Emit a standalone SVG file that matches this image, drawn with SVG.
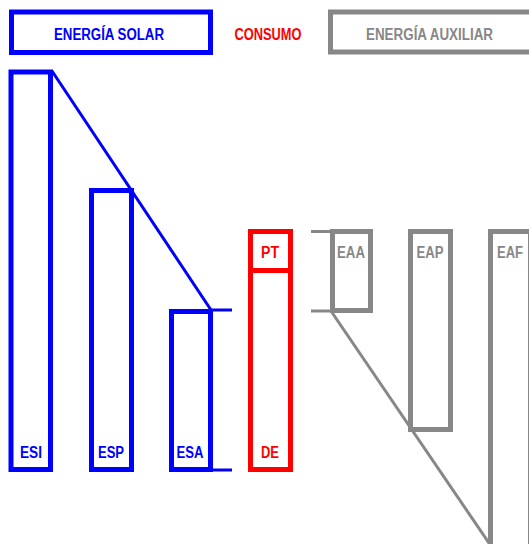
<svg xmlns="http://www.w3.org/2000/svg" width="529" height="544" viewBox="0 0 529 544">
<style>
.b{fill:none;stroke:#0000ff;stroke-width:5}
.r{fill:none;stroke:#ff0000;stroke-width:5}
.g{fill:none;stroke:#878787;stroke-width:5}
.bl{stroke:#0000ff;stroke-width:3;fill:none}
.gl{stroke:#878787;stroke-width:3;fill:none}
text{font-family:"Liberation Sans Narrow","Liberation Sans",Arial,sans-serif;font-weight:bold;font-size:16px;text-anchor:middle}
.tb{fill:#0000ff}.tr{fill:#ff0000}.tg{fill:#878787}
</style>
<g id="legend-solar"><rect class="b" x="11.5" y="12" width="199" height="40.5"/><text class="tb" x="109" y="40" textLength="110" lengthAdjust="spacingAndGlyphs">ENERGÍA SOLAR</text></g>
<g id="legend-consumo"><text class="tr" x="268" y="40" textLength="67" lengthAdjust="spacingAndGlyphs">CONSUMO</text></g>
<g id="legend-aux"><rect class="g" x="330.5" y="12" width="210" height="40"/><text class="tg" x="429.5" y="40" textLength="127" lengthAdjust="spacingAndGlyphs">ENERGÍA AUXILIAR</text></g>
<g id="connectors">
<line class="bl" x1="52" y1="71" x2="211" y2="310"/>
<line class="bl" x1="211" y1="310" x2="232" y2="310"/>
<line class="bl" x1="211" y1="470" x2="232" y2="470"/>
<line class="gl" x1="311" y1="231.5" x2="330" y2="231.5"/>
<line class="gl" x1="311" y1="311" x2="330" y2="311"/>
<line class="gl" x1="331" y1="311" x2="491" y2="546"/>
</g>
<g id="ESI"><rect class="b" x="11" y="72" width="39.5" height="397.5"/><text class="tb" x="31" y="458" textLength="22" lengthAdjust="spacingAndGlyphs">ESI</text></g>
<g id="ESP"><rect class="b" x="91.5" y="190.5" width="40" height="279"/><text class="tb" x="111" y="458" textLength="26" lengthAdjust="spacingAndGlyphs">ESP</text></g>
<g id="ESA"><rect class="b" x="171.5" y="311.5" width="39" height="158"/><text class="tb" x="190" y="458" textLength="27" lengthAdjust="spacingAndGlyphs">ESA</text></g>
<g id="PT"><rect class="r" x="250.5" y="231.5" width="40" height="39"/><text class="tr" x="270" y="258" textLength="18" lengthAdjust="spacingAndGlyphs">PT</text></g>
<g id="DE"><rect class="r" x="250.5" y="270.5" width="40" height="199"/><text class="tr" x="270" y="458" textLength="18" lengthAdjust="spacingAndGlyphs">DE</text></g>
<g id="EAA"><rect class="g" x="332.5" y="231.5" width="38" height="79"/><text class="tg" x="351" y="258" textLength="28" lengthAdjust="spacingAndGlyphs">EAA</text></g>
<g id="EAP"><rect class="g" x="410.5" y="231.5" width="40" height="198"/><text class="tg" x="430" y="258" textLength="27" lengthAdjust="spacingAndGlyphs">EAP</text></g>
<g id="EAF"><rect class="g" x="490.5" y="231.5" width="40" height="330"/><text class="tg" x="510" y="258" textLength="26" lengthAdjust="spacingAndGlyphs">EAF</text></g>
</svg>
